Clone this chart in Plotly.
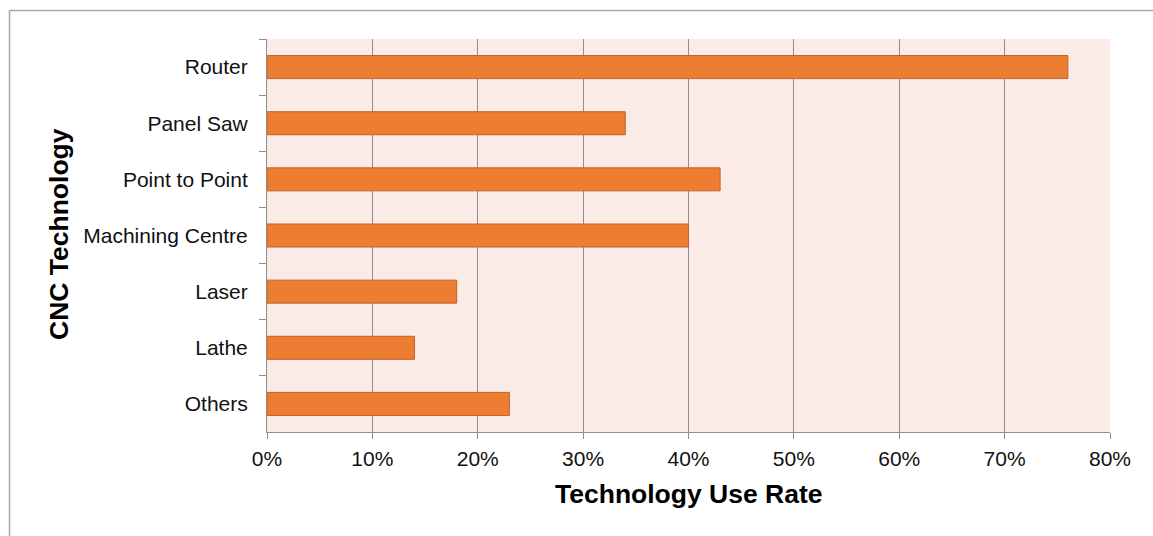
import plotly.graph_objects as go

categories = ["Router", "Panel Saw", "Point to Point", "Machining Centre", "Laser", "Lathe", "Others"]
use_rate = [0.76, 0.34, 0.43, 0.40, 0.18, 0.14, 0.23]
x_ticks = [0, 0.1, 0.2, 0.3, 0.4, 0.5, 0.6, 0.7, 0.8]
x_tick_labels = ["0%", "10%", "20%", "30%", "40%", "50%", "60%", "70%", "80%"]

FONT = "Liberation Sans, Arial, sans-serif"
L, R, T, B = 267, 43, 39, 104
W, H = 1153, 536
pw, ph = W - L - R, H - T - B

fig = go.Figure()
fig.add_trace(go.Bar(
    x=use_rate, y=categories, orientation="h",
    marker=dict(color="#ED7D31", line=dict(color="#C0612B", width=1)),
    hoverinfo="x+y",
))

fig.update_layout(
    width=W, height=H,
    margin=dict(l=L, r=R, t=T, b=B, autoexpand=False),
    paper_bgcolor="white",
    plot_bgcolor="#FBEBE7",
    bargap=0.59,
    showlegend=False,
    font=dict(family=FONT, size=21, color="#111111"),
    xaxis=dict(
        range=[0, 0.8], tickvals=x_ticks, ticktext=x_tick_labels,
        showgrid=True, gridcolor="#8E8E8E", gridwidth=1,
        showline=True, linecolor="#8E8E8E", linewidth=1,
        ticks="outside", ticklen=6, tickcolor="#8E8E8E",
        ticklabelstandoff=2,
        zeroline=False, fixedrange=True, automargin=False,
        tickfont=dict(size=21, family=FONT, color="#111111"),
    ),
    yaxis=dict(
        autorange="reversed", type="category",
        showgrid=False, showline=True, linecolor="#8E8E8E", linewidth=1,
        ticks="outside", ticklen=7, tickcolor="#8E8E8E", tickson="boundaries",
        ticklabelstandoff=14,
        fixedrange=True, automargin=False,
        tickfont=dict(size=21, family=FONT, color="#111111"),
    ),
    annotations=[
        dict(text="<b>Technology Use Rate</b>", xref="paper", yref="paper",
             x=0.5, y=-(494 - 432) / ph, xanchor="center", yanchor="middle",
             showarrow=False, font=dict(size=26.5, family=FONT, color="#000000")),
        dict(text="<b>CNC Technology</b>", xref="paper", yref="paper",
             x=(59 - L) / pw, y=(432 - 234) / ph, xanchor="center", yanchor="middle",
             textangle=-90, showarrow=False,
             font=dict(size=26.5, family=FONT, color="#000000")),
    ],
    shapes=[
        dict(type="line", xref="paper", yref="paper",
             x0=(9.5 - L) / pw, x1=1.2, y0=(432 - 10.5) / ph, y1=(432 - 10.5) / ph,
             line=dict(color="#A6A6A6", width=1.5)),
        dict(type="line", xref="paper", yref="paper",
             x0=(9.5 - L) / pw, x1=(9.5 - L) / pw, y0=-0.5, y1=(432 - 10.5) / ph,
             line=dict(color="#A6A6A6", width=1.5)),
    ],
)

fig.write_html("out.html", config={"displayModeBar": False})
